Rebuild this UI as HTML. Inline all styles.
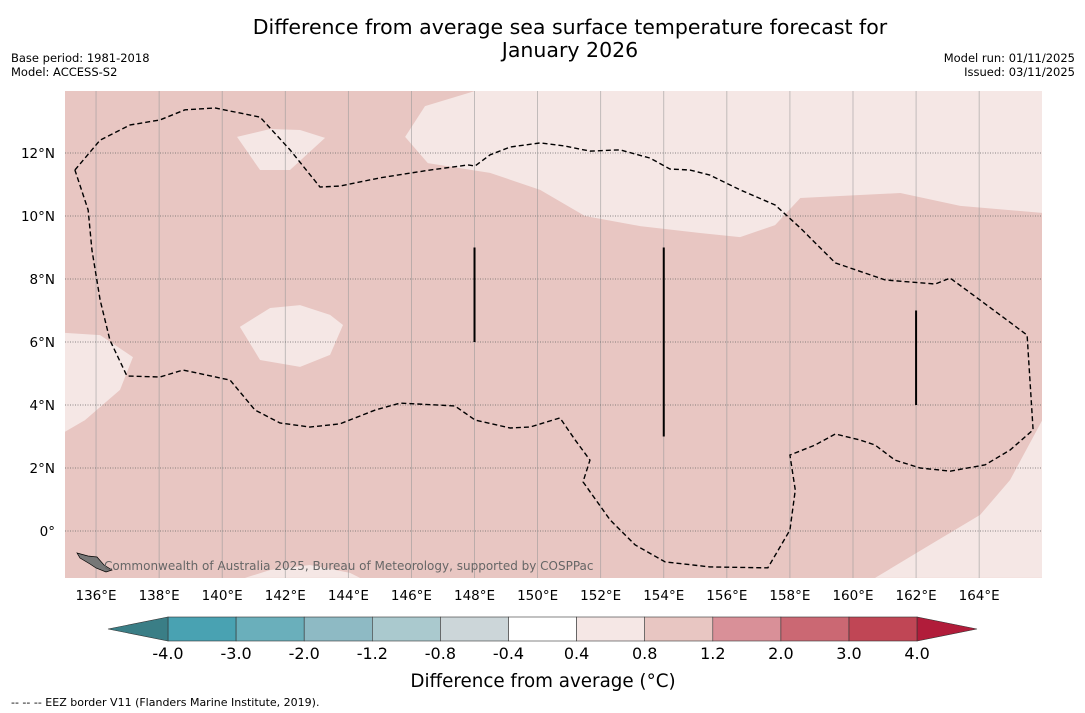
<!DOCTYPE html>
<html><head><meta charset="utf-8"><style>
body{margin:0;background:#fff;width:1085px;height:713px;overflow:hidden;font-family:"DejaVu Sans","Liberation Sans",sans-serif}
svg{display:block}
</style></head><body>
<svg id="s" width="1085" height="713" xmlns="http://www.w3.org/2000/svg">
<text x="570" y="34" font-size="20.5" text-anchor="middle">Difference from average sea surface temperature forecast for</text>
<text x="570" y="57" font-size="20.5" text-anchor="middle">January 2026</text>
<text x="11" y="62" font-size="11.5">Base period: 1981-2018</text>
<text x="11" y="76" font-size="11.5">Model: ACCESS-S2</text>
<text x="1075" y="62" font-size="11.5" text-anchor="end">Model run: 01/11/2025</text>
<text x="1075" y="76" font-size="11.5" text-anchor="end">Issued: 03/11/2025</text>
<g id="map"></g>
<g id="cb"></g>
<text x="543" y="687" font-size="18.3" text-anchor="middle">Difference from average (°C)</text>
<text x="11" y="706" font-size="11">-- -- -- EEZ border V11 (Flanders Marine Institute, 2019).</text>
</svg>
<script>
const lonTicks=[136,138,140,142,144,146,148,150,152,154,156,158,160,162,164];
const latTicks=[0,2,4,6,8,10,12];
const cbBounds=[-4.0,-3.0,-2.0,-1.2,-0.8,-0.4,0.4,0.8,1.2,2.0,3.0,4.0];
const cbColors=['#49a2b2','#6aafbb','#8ebac4','#aac9ce','#ccd6d9','#ffffff','#f5e7e5','#e8c6c2','#d99098','#cb6873','#c04655'];
const barLon=[148,154,162];
const barLat0=[6,3,4];
const barLat1=[9,9,7];
const light1=[[148.02,13.97],[146.43,13.49],[145.8,12.51],[146.52,11.68],[148.49,11.37],[150.08,10.83],[151.5,10.0],[153.25,9.68],[155.15,9.46],[156.42,9.33],[157.53,9.71],[158.33,10.57],[161.5,10.73],[163.4,10.32],[166,10.1],[166,13.97]];
const light2=[[140.47,12.51],[141.52,12.76],[142.47,12.73],[143.26,12.48],[142.15,11.46],[141.2,11.46]];
const light3=[[140.56,6.48],[141.52,7.08],[142.47,7.17],[143.42,6.86],[143.83,6.54],[143.42,5.59],[142.47,5.21],[141.2,5.43]];
const light4=[[135,6.29],[136.13,6.22],[137.17,5.52],[136.76,4.48],[135.65,3.52],[135,3.14]];
const light5=[[166,3.52],[164.98,1.62],[164.03,0.51],[162.44,-0.44],[160.7,-1.49],[166,-1.49]];
const light6=[[140.72,-1.49],[141.52,-1.24],[142.78,-1.08],[144.05,-1.33],[144.37,-1.49]];
const eez=[[135.33,11.46],[136.13,12.41],[137.08,12.89],[138.03,13.05],[138.82,13.37],[139.77,13.43],[141.2,13.14],[142.15,12.1],[143.1,10.92],[143.73,10.95],[145.0,11.21],[146.59,11.46],[147.79,11.62],[148.02,11.59],[148.49,11.94],[149.13,12.19],[150.08,12.32],[150.87,12.22],[151.66,12.06],[152.61,12.1],[153.56,11.84],[154.2,11.49],[154.83,11.46],[155.46,11.3],[156.42,10.83],[157.53,10.35],[158.33,9.62],[159.44,8.51],[161.02,7.97],[162.61,7.84],[163.08,8.03],[164.03,7.33],[165.52,6.22],[165.71,3.21],[164.98,2.57],[164.19,2.1],[163.08,1.9],[162.13,2.0],[161.33,2.25],[160.7,2.73],[160.22,2.89],[159.44,3.08],[158.8,2.73],[158.0,2.41],[158.17,1.3],[158.0,0.03],[157.3,-1.17],[155.46,-1.14],[154.04,-0.98],[153.09,-0.44],[152.3,0.35],[151.44,1.56],[151.66,2.25],[151.19,2.89],[150.71,3.59],[149.76,3.3],[149.13,3.27],[148.02,3.52],[147.38,3.97],[145.64,4.06],[144.85,3.84],[143.73,3.4],[142.78,3.3],[141.83,3.43],[141.04,3.84],[140.25,4.79],[138.76,5.11],[138.03,4.89],[136.98,4.92],[136.44,6.06],[136.13,7.33],[135.87,8.92],[135.75,10.19],[135.33,11.46]];
const X0=64.5,Y0=531,K=31.54,KY=31.5,L=65,R=1042,T=91,B=578;
const px=lon=>X0+(lon-135)*K, py=lat=>Y0-lat*KY;
const NS='http://www.w3.org/2000/svg';
function mk(tag,attrs,parent){const e=document.createElementNS(NS,tag);for(const k in attrs)e.setAttribute(k,attrs[k]);parent.appendChild(e);return e;}
const map=document.getElementById('map');
const bg=mk('rect',{x:L,y:T,width:R-L,height:B-T,fill:'#e8c6c2'},map);


const defs=mk('clipPath',{id:'clip'},map);mk('rect',{x:L,y:T,width:R-L,height:B-T},defs);
const g=mk('g',{'clip-path':'url(#clip)'},map);
[light1,light2,light3,light4,light5,light6].forEach((poly,i)=>{
 const p=mk('polygon',{points:poly.map(q=>px(q[0])+','+py(q[1])).join(' '),fill:'#f5e7e5'},g);
 
 
});
lonTicks.forEach(lon=>{
 const l=mk('line',{x1:px(lon),x2:px(lon),y1:T,y2:B,stroke:'#999','stroke-width':0.8,'stroke-opacity':0.7},g);
 
 
 const t=mk('text',{x:px(lon),y:B+22,'font-size':13.5,'text-anchor':'middle'},map);t.textContent=lon+'°E';
 
 
});
latTicks.forEach(lat=>{
 const l=mk('line',{x1:L,x2:R,y1:py(lat),y2:py(lat),stroke:'#666','stroke-width':0.8,'stroke-dasharray':'1,1.5'},g);
 
 
 const t=mk('text',{x:55,y:py(lat)+5,'font-size':13.5,'text-anchor':'end'},map);t.textContent=lat===0?'0°':lat+'°N';
 
 
});
const e=mk('polyline',{points:eez.map(q=>px(q[0])+','+py(q[1])).join(' '),fill:'none',stroke:'#000','stroke-width':1.4,'stroke-dasharray':'5,3'},g);


barLon.forEach((lon,i)=>{
 const l=mk('line',{x1:px(lon),x2:px(lon),y1:py(barLat1[i]),y2:py(barLat0[i]),stroke:'#000','stroke-width':2},g);
 
 
});
const isl=mk('path',{d:'M77,553 L88,556 L97,557 L104,565 L112,570 L106,572 L96,568 L90,564 L80,558 Z',fill:'#777',stroke:'#000','stroke-width':0.7},g);


const cr=mk('text',{x:104,y:570,'font-size':12,fill:'#666'},g);cr.textContent='Commonwealth of Australia 2025, Bureau of Meteorology, supported by COSPPac';


const cb=document.getElementById('cb');
const cx0=168,cw=68.1,cy=617,ch=24;
cbColors.forEach((c,i)=>{
 const r=mk('rect',{x:cx0+i*cw,y:cy,width:cw,height:ch,fill:c,stroke:'#333','stroke-width':0.6},cb);
 
 
});
const tl=mk('polygon',{points:`${cx0},${cy} ${cx0},${cy+ch} 108,${cy+ch/2}`,fill:'#3a7e86',stroke:'#333','stroke-width':0.6},cb);


const xr=cx0+cbColors.length*cw;
const tr=mk('polygon',{points:`${xr},${cy} ${xr},${cy+ch} 977,${cy+ch/2}`,fill:'#b11c3a',stroke:'#333','stroke-width':0.6},cb);


cbBounds.forEach((v,i)=>{
 const t=mk('text',{x:cx0+i*cw,y:cy+42,'font-size':16,'text-anchor':'middle'},cb);t.textContent=v.toFixed(1);
 
 
});
</script>
</body></html>
